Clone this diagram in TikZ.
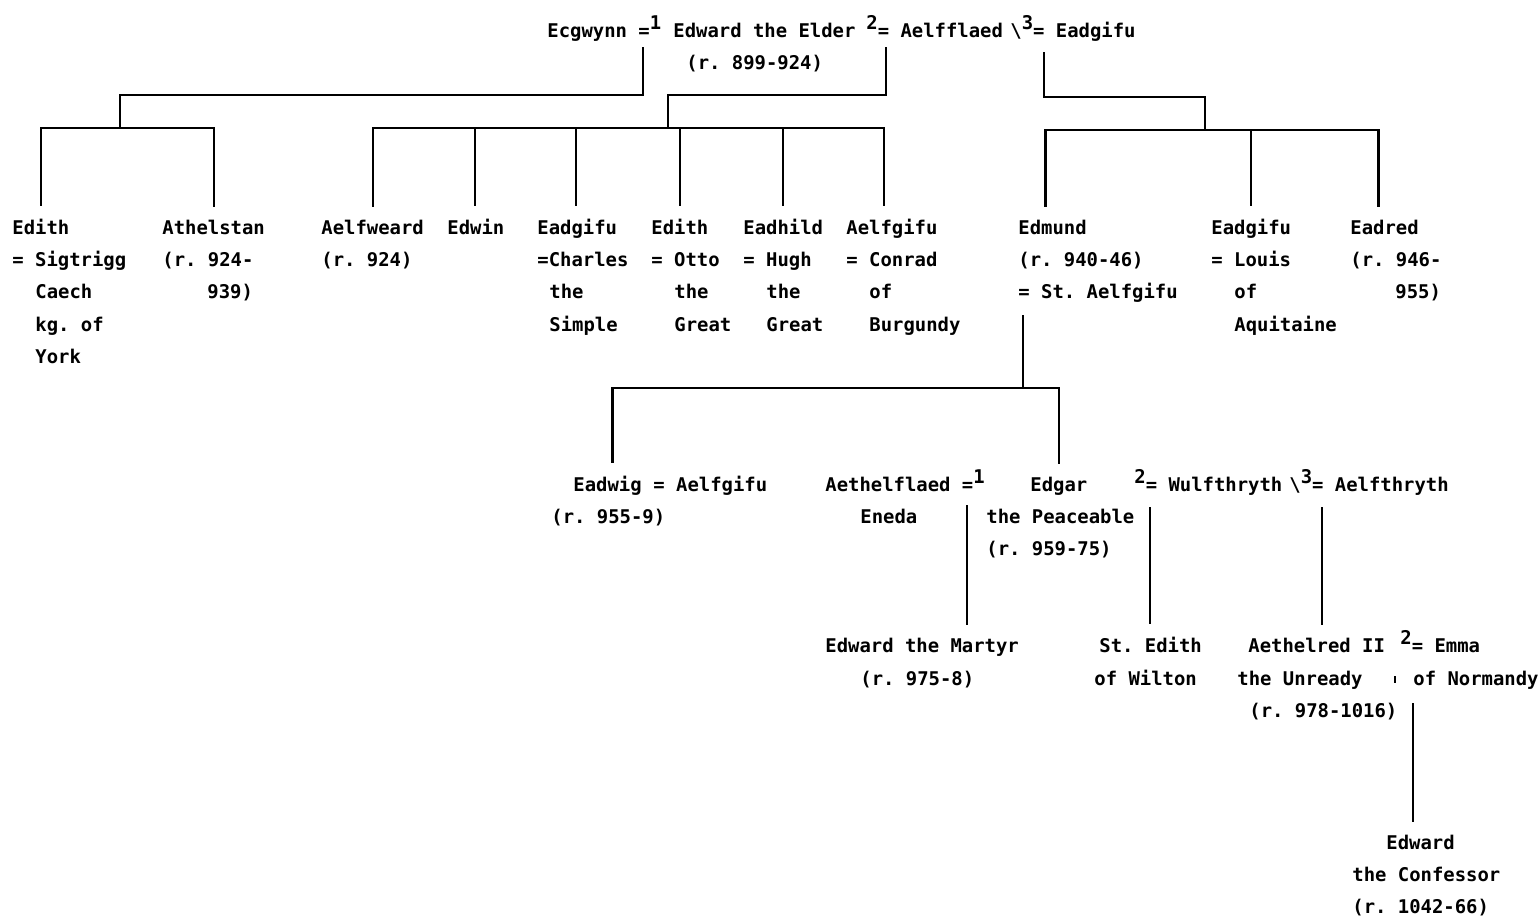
\documentclass[tikz,border=0pt]{standalone}
\usepackage{fontspec}
\setmainfont{DejaVu Sans Mono}
\newcommand{\supn}[1]{\raisebox{4pt}{#1}}
\newcommand{\bsl}{\textbackslash}
\begin{document}
\frenchspacing
\begin{tikzpicture}[x=0.5pt,y=-0.5pt,
  every node/.style={font=\bfseries\frenchspacing\fontsize{9.45}{11}\selectfont},
  tx/.style={anchor=base west, inner sep=0pt},
  nm/.style={anchor=base west, inner sep=0pt, outer ysep=6.5pt},
  ln/.style={line width=1.05pt, black}]
\fill[white] (0,0) rectangle (1539,916);
\useasboundingbox (0,0) rectangle (1539,916);

% ---- generation 1
\node[tx] (ecg) at (547,37) {Ecgwynn =\supn{1}};
\node[tx] (edw) at (673,37) {Edward the Elder};
\node[tx] (edwr) at (686,69) {(r. 899-924)};
\node[tx] (aelffl) at (866,37) {\supn{2}= Aelfflaed};
\node[tx] (eadgq) at (1010,37) {\bsl\supn{3}= Eadgifu};

% ---- generation 2
\node[nm] (edith) at (12,234) {Edith};
\node[tx] (edith2) at (12,266) {= Sigtrigg};
\node[tx] (edith3) at (35,298) {Caech};
\node[tx] (edith4) at (35,331) {kg. of};
\node[tx] (edith5) at (35,363) {York};

\node[nm] (athel) at (162,234) {Athelstan};
\node[tx] (athel2) at (162,266) {(r. 924-};
\node[tx] (athel3) at (207,298) {939)};

\node[nm] (aelfw) at (321,234) {Aelfweard};
\node[tx] (aelfw2) at (321,266) {(r. 924)};

\node[nm] (edwin) at (447,234) {Edwin};

\node[nm] (eadga) at (537,234) {Eadgifu};
\node[tx] (eadga2) at (537,266) {=Charles};
\node[tx] (eadga3) at (549,298) {the};
\node[tx] (eadga4) at (549,331) {Simple};

\node[nm] (editho) at (651,234) {Edith};
\node[tx] (editho2) at (651,266) {= Otto};
\node[tx] (editho3) at (674,298) {the};
\node[tx] (editho4) at (674,331) {Great};

\node[nm] (eadh) at (743,234) {Eadhild};
\node[tx] (eadh2) at (743,266) {= Hugh};
\node[tx] (eadh3) at (766,298) {the};
\node[tx] (eadh4) at (766,331) {Great};

\node[nm] (aelfg) at (846,234) {Aelfgifu};
\node[tx] (aelfg2) at (846,266) {= Conrad};
\node[tx] (aelfg3) at (869,298) {of};
\node[tx] (aelfg4) at (869,331) {Burgundy};

\node[nm] (edmund) at (1018,234) {Edmund};
\node[tx] (edmund2) at (1018,266) {(r. 940-46)};
\node[tx] (edmund3) at (1018,298) {= St. Aelfgifu};

\node[nm] (eadgb) at (1211,234) {Eadgifu};
\node[tx] (eadgb2) at (1211,266) {= Louis};
\node[tx] (eadgb3) at (1234,298) {of};
\node[tx] (eadgb4) at (1234,331) {Aquitaine};

\node[nm] (eadred) at (1350,234) {Eadred};
\node[tx] (eadred2) at (1350,266) {(r. 946-};
\node[tx] (eadred3) at (1395,298) {955)};

% ---- generation 3
\node[nm] (eadwig) at (573,491) {Eadwig};
\node[tx] (eadwigw) at (653,491) {= Aelfgifu};
\node[tx] (eadwig2) at (551,523) {(r. 955-9)};

\node[tx] (aethfl) at (825,491) {Aethelflaed =\supn{1}};
\node[tx] (eneda) at (860,523) {Eneda};

\node[nm] (edgar) at (1030,491) {Edgar};
\node[tx] (edgar2) at (986,523) {the Peaceable};
\node[tx] (edgar3) at (986,555) {(r. 959-75)};

\node[tx] (wulf) at (1134,491) {\supn{2}= Wulfthryth};
\node[tx] (aelft) at (1289,491) {\bsl\supn{3}= Aelfthryth};

% ---- generation 4
\node[nm] (edmart) at (825,652) {Edward the Martyr};
\node[tx] (edmart2) at (860,685) {(r. 975-8)};

\node[nm] (stedith) at (1099,652) {St. Edith};
\node[tx] (stedith2) at (1094,685) {of Wilton};

\node[nm] (aethred) at (1248,652) {Aethelred II};
\node[tx] (aethred2) at (1237,685) {the Unready};
\node[tx] (aethred3) at (1249,717) {(r. 978-1016)};

\node[tx] (emma) at (1400,652) {\supn{2}= Emma};
\node[tx] (emma2) at (1413,685) {of Normandy};

% ---- generation 5
\node[nm] (edconf) at (1386,849) {Edward};
\node[tx] (edconf2) at (1352,881) {the Confessor};
\node[tx] (edconf3) at (1352,913) {(r. 1042-66)};

% ---- connector points
\coordinate (m1) at (643,47);
\coordinate (j1) at (120,95);
\coordinate (b1) at (120,128);
\coordinate (m2) at (886,47);
\coordinate (j2) at (668,95);
\coordinate (b2) at (668,128);
\coordinate (m3) at (1044,52);
\coordinate (j3) at (1205,97);
\coordinate (b3) at (1205,130);
\coordinate (m4) at (1023,315);
\coordinate (b4) at (1023,388);
\coordinate (m5) at (967,505);
\coordinate (m6) at (1150,507);
\coordinate (m7) at (1322,507);
\coordinate (m8) at (1413,703);
\coordinate (tk1) at (1395,676);
\coordinate (tk2) at (1395,683);

% family of Ecgwynn
\draw[ln] (m1) |- (j1) -- (b1);
\draw[ln] (edith.north) |- (b1) -| (athel.north);

% family of Aelfflaed
\draw[ln] (m2) |- (j2) -- (b2);
\draw[ln] (aelfw.north) |- (b2) -| ([xshift=-4pt]aelfg.north);
\foreach \c/\d in {edwin/-0.5pt,eadga/-0.5pt,editho/0pt,eadh/0pt}
  \draw[ln] ([xshift=\d]\c.north) -- ([xshift=\d]\c.north |- b2);

% family of Eadgifu
\draw[ln] (m3) |- (j3) -- (b3);
\draw[ln] ([xshift=-3.5pt]edmund.north) |- (b3) -| ([xshift=-3pt]eadred.north);
\draw[ln] (eadgb.north) -- (eadgb.north |- b3);

% family of Edmund
\draw[ln] (m4) -- (b4);
\draw[ln] ([xshift=2.5pt]eadwig.north) |- (b4) -| (edgar.north);

% children of Edgar
\draw[ln] (m5) -- (m5 |- edmart.north);
\draw[ln] (m6) -- (m6 |- stedith.north);
\draw[ln] (m7) -- (m7 |- aethred.north);

% child of Aethelred
\draw[ln] (m8) -- (m8 |- edconf.north);
\draw[line width=0.8pt] (tk1) -- (tk2);
\end{tikzpicture}
\end{document}
